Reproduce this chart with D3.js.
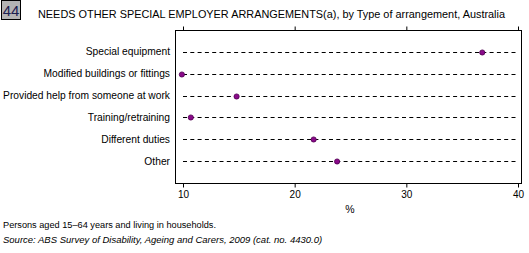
<!DOCTYPE html>
<html>
<head>
<meta charset="utf-8">
<script src="https://cdn.jsdelivr.net/npm/d3@7"></script>
<style>
  body { margin: 0; background: #fff; }
  svg { display: block; font-family: "Liberation Sans", Arial, sans-serif; }
</style>
</head>
<body>
<svg id="chart" width="529" height="253"></svg>
<script>
// data
var categories = ["Special equipment", "Modified buildings or fittings", "Provided help from someone at work",
                  "Training/retraining", "Different duties", "Other"];
var values = [36.8, 9.9, 14.8, 10.7, 21.7, 23.8];
var xTicks = [10, 20, 30, 40];

var svg = d3.select("#chart"),
    width = +svg.attr("width"),
    height = +svg.attr("height");

var box = {left: 175, right: 521, top: 30, bottom: 183};

var x = d3.scaleLinear().domain([10, 40]).range([183, 518]);
var y = d3.scalePoint().domain(categories).range([box.top, box.bottom]).padding(1);

// chart number badge
svg.append("rect")
    .attr("x", 1.5).attr("y", 0.5).attr("width", 19).attr("height", 19)
    .attr("fill", "#b4b4b4").attr("stroke", "#000").attr("stroke-width", 1);
svg.append("text")
    .attr("x", 11).attr("y", 16)
    .attr("text-anchor", "middle")
    .style("font-size", "15px")
    .attr("fill", "#1c2050")
    .text("44");

svg.append("text")
    .attr("x", 38).attr("y", 18)
    .style("font-size", "10.8px")
    .attr("fill", "#000")
    .attr("textLength", 467)
    .attr("lengthAdjust", "spacingAndGlyphs")
    .text("NEEDS OTHER SPECIAL EMPLOYER ARRANGEMENTS(a), by Type of arrangement, Australia");

// plot frame
svg.append("rect")
    .attr("x", box.left + 0.5).attr("y", box.top + 0.5)
    .attr("width", box.right - box.left).attr("height", box.bottom - box.top)
    .attr("fill", "none").attr("stroke", "#000").attr("stroke-width", 1);

// bottom axis
var xAxis = svg.append("g")
    .attr("transform", "translate(0," + (box.bottom + 0.5) + ")")
    .call(d3.axisBottom(x).tickValues(xTicks).tickSize(4).tickSizeOuter(0).tickPadding(3));
xAxis.select(".domain").remove();
xAxis.selectAll("text").style("font-size", "10px").attr("fill", "#000").style("font-family", "Liberation Sans, Arial, sans-serif");

// top axis ticks
var topAxis = svg.append("g")
    .attr("transform", "translate(0," + (box.top + 0.5) + ")")
    .call(d3.axisTop(x).tickValues(xTicks).tickSize(4).tickFormat(""));
topAxis.select(".domain").remove();

svg.append("text")
    .attr("x", 350).attr("y", 213)
    .attr("text-anchor", "middle")
    .style("font-size", "10.5px")
    .text("%");

// category labels
svg.append("g").selectAll("text")
    .data(categories)
    .enter().append("text")
      .attr("x", 170)
      .attr("y", function(d) { return y(d); })
      .attr("dy", "0.35em")
      .attr("text-anchor", "end")
      .style("font-size", "10.25px")
      .text(function(d) { return d; });

// dashed guide lines
svg.append("g").selectAll("line")
    .data(categories)
    .enter().append("line")
      .attr("x1", x(10)).attr("x2", x(40))
      .attr("y1", function(d) { return Math.round(y(d)) + 0.5; })
      .attr("y2", function(d) { return Math.round(y(d)) + 0.5; })
      .attr("stroke", "#000")
      .attr("stroke-width", 1)
      .attr("stroke-dasharray", "4,3.3");

// points
svg.append("g").selectAll("circle")
    .data(values)
    .enter().append("circle")
      .attr("cx", function(d) { return x(d); })
      .attr("cy", function(d, i) { return Math.round(y(categories[i])) + 0.5; })
      .attr("r", 2.6)
      .attr("fill", "#8a0a8a")
      .attr("stroke", "#500050")
      .attr("stroke-width", 0.8);

// footnotes
svg.append("text")
    .attr("x", 3).attr("y", 228)
    .style("font-size", "9.2px")
    .text("Persons aged 15\u201364 years and living in households.");
svg.append("text")
    .attr("x", 3).attr("y", 243)
    .style("font-size", "9.5px")
    .style("font-style", "italic")
    .text("Source: ABS Survey of Disability, Ageing and Carers, 2009 (cat. no. 4430.0)");
</script>
</body>
</html>
